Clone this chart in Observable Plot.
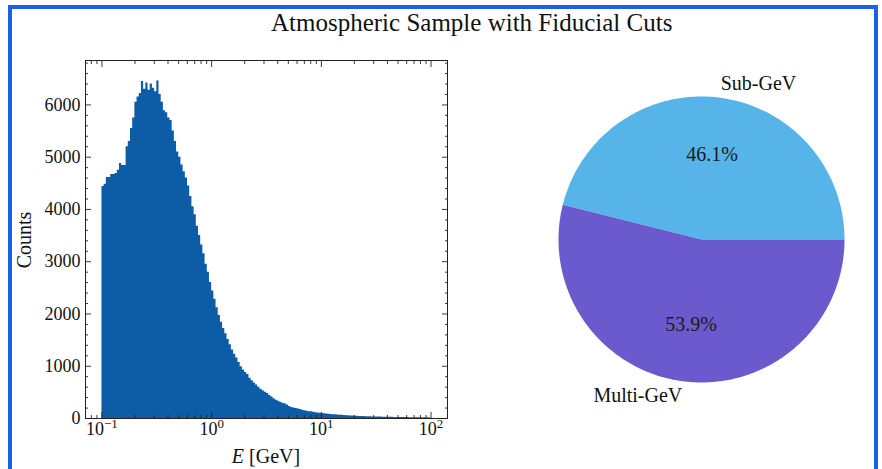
<!DOCTYPE html>
<html><head><meta charset="utf-8">
<script src="https://cdn.jsdelivr.net/npm/d3@7"></script>
<script src="https://cdn.jsdelivr.net/npm/@observablehq/plot@0.6"></script>
<style>
html,body{margin:0;padding:0;background:#fff;}
#root{position:relative;width:882px;height:469px;overflow:hidden;background:#fff;font-family:"Liberation Serif",serif;color:#111;}
#border{position:absolute;left:8px;top:5px;width:862px;height:600px;border:4px solid #1763E3;border-bottom:none;box-sizing:content-box;}
#title{position:absolute;left:271px;width:400px;top:10px;text-align:center;font-size:25px;line-height:25px;white-space:nowrap;}
#xlabel{position:absolute;left:166px;width:200px;top:446px;text-align:center;font-size:20px;line-height:20px;}
#ylabel{position:absolute;left:24px;top:240px;font-size:20px;line-height:20px;transform:translate(-50%,-50%) rotate(-90deg);white-space:nowrap;}
#hist{position:absolute;left:0;top:40px;}
#pie{position:absolute;left:460px;top:40px;}
</style></head>
<body><div id="root">
<div id="border"></div>
<div id="title"></div>
<div id="hist"></div>
<div id="pie"></div>
<div id="xlabel"><i>E</i> [GeV]</div>
<div id="ylabel">Counts</div>
</div>
<script>
const title = "Atmospheric Sample with Fiducial Cuts";
const eMin = 0.1, eMax = 100; // log-spaced bins
const counts = [
4440,4480,4610,4610,4670,4670,4690,4750,4880,4840,
4840,5200,5300,5550,5750,6050,6150,6220,6450,6300,
6420,6280,6400,6320,6250,6460,6200,6050,5890,5850,
5750,5700,5500,5300,5100,5000,4850,4720,4600,4450,
4250,4050,3900,3680,3500,3320,3150,2950,2800,2600,
2440,2280,2120,1970,1840,1720,1620,1510,1410,1310,
1230,1160,1070,990,930,880,840,770,720,680,
640,600,560,530,500,480,440,410,380,350,
330,310,290,280,260,230,210,200,190,180,
170,160,150,140,130,130,120,110,105,100,
95,90,85,80,75,72,70,66,64,60,
57,54,52,50,47,45,43,40,38,37,
35,34,33,31,30,29,28,27,26,25,
24,23,22,21,21,20,19,18,18,17,
16,16,15,15,14,13,13,12,12,11
];
const xTickValues = [0.1, 1, 10, 100];
const xTickBase = "10";
const xTickExponents = ["−1", "0", "1", "2"];
const yTickValues = [0, 1000, 2000, 3000, 4000, 5000, 6000];
const yMax = 6850;
const pieLabels = ["Sub-GeV", "Multi-GeV"];
const pieShares = [46.1, 53.9];
const pieColors = ["#56B4E9", "#6A5ACD"];
const histColor = "#0C5DA5";

document.getElementById("title").textContent = title;

// histogram
const n = counts.length;
const edges = d3.range(n + 1).map(i => eMin * Math.pow(eMax / eMin, i / n));
const areaData = counts.map((c, i) => ({e: edges[i], c}));
areaData.push({e: edges[n], c: counts[n - 1]});
const logPad = 0.05 * Math.log10(eMax / eMin);
const xDomain = [eMin / Math.pow(10, logPad), eMax * Math.pow(10, logPad)];
const xMinor = [];
for (let k = -2; k <= 2; k++) for (let m = 2; m <= 9; m++) {
  const v = m * Math.pow(10, k);
  if (v >= xDomain[0] && v <= xDomain[1]) xMinor.push(v);
}
const yMinor = d3.range(0, yMax, 200).filter(v => v % 1000 !== 0);
const tc = "#222";
function inX(anchor, ticks, size) {
  return Plot.axisX({anchor, ticks, tickSize: size, dy: anchor === "bottom" ? -size : size, fill: "none", stroke: tc, strokeWidth: 0.9, label: null});
}
function inY(anchor, ticks, size) {
  return Plot.axisY({anchor, ticks, tickSize: size, dx: anchor === "left" ? size : -size, fill: "none", stroke: tc, strokeWidth: 0.9, label: null});
}
const hist = Plot.plot({
  width: 460, height: 429,
  marginLeft: 85, marginRight: 13, marginTop: 20, marginBottom: 51,
  x: {type: "log", domain: xDomain},
  y: {domain: [0, yMax]},
  style: {fontFamily: "Liberation Serif", fontSize: "18px", color: "#111", background: "transparent", overflow: "visible"},
  marks: [
    Plot.areaY(areaData, {x: "e", y: "c", curve: "step-after", fill: histColor}),
    inX("bottom", xTickValues, 6), inX("top", xTickValues, 6),
    inX("bottom", xMinor, 3), inX("top", xMinor, 3),
    inY("left", yTickValues, 6), inY("right", yTickValues, 6),
    inY("left", yMinor, 3), inY("right", yMinor, 3),
    Plot.axisX({anchor: "bottom", ticks: xTickValues, tickFormat: d => String(xTickValues.indexOf(d)), tickSize: 0, tickPadding: 4, label: null}),
    Plot.axisY({anchor: "left", ticks: yTickValues, tickFormat: d => String(d), tickSize: 0, tickPadding: 5, label: null}),
    Plot.frame({stroke: tc, strokeWidth: 1})
  ]
});
// render "10^k" labels with real superscripts
const svgNS = "http://www.w3.org/2000/svg";
hist.querySelectorAll('g[aria-label="x-axis tick label"] text').forEach(t => {
  const i = +t.textContent;
  t.textContent = "";
  const b = document.createElementNS(svgNS, "tspan");
  b.textContent = xTickBase;
  const s = document.createElementNS(svgNS, "tspan");
  s.textContent = xTickExponents[i];
  s.setAttribute("font-size", "13px");
  s.setAttribute("dy", "-0.55em");
  t.appendChild(b); t.appendChild(s);
});
document.getElementById("hist").appendChild(hist);

// pie
let cum = 0;
const wedgePts = [];
const labelPts = [];
pieShares.forEach((s, k) => {
  const a0 = cum / 100 * 2 * Math.PI; cum += s; const a1 = cum / 100 * 2 * Math.PI;
  const steps = Math.ceil((a1 - a0) / (Math.PI / 180));
  wedgePts.push({k, x: 0, y: 0});
  for (let j = 0; j <= steps; j++) {
    const a = a0 + (a1 - a0) * j / steps;
    wedgePts.push({k, x: Math.cos(a), y: Math.sin(a)});
  }
  const am = (a0 + a1) / 2;
  labelPts.push({k, name: pieLabels[k], lx: 1.1 * Math.cos(am), ly: 1.1 * Math.sin(am),
    px: 0.6 * Math.cos(am), py: 0.6 * Math.sin(am), pct: s.toFixed(1) + "%"});
});
const pie = Plot.plot({
  width: 422, height: 429,
  marginLeft: 98, marginRight: 38, marginTop: 56, marginBottom: 87,
  x: {domain: [-1, 1], axis: null},
  y: {domain: [-1, 1], axis: null},
  style: {fontFamily: "Liberation Serif", fontSize: "20px", color: "#111", background: "transparent", overflow: "visible"},
  marks: [
    ...pieShares.map((s, k) => Plot.line(wedgePts.filter(d => d.k === k), {x: "x", y: "y", fill: pieColors[k], stroke: "none"})),
    Plot.text(labelPts.filter(d => d.lx >= 0), {x: "lx", y: "ly", text: "name", textAnchor: "start", fontSize: 20, fill: "#111"}),
    Plot.text(labelPts.filter(d => d.lx < 0), {x: "lx", y: "ly", text: "name", textAnchor: "end", fontSize: 20, fill: "#111"}),
    Plot.text(labelPts, {x: "px", y: "py", text: "pct", fontSize: 20, fill: "#1a1a1a"})
  ]
});
document.getElementById("pie").appendChild(pie);
</script>
</body></html>
